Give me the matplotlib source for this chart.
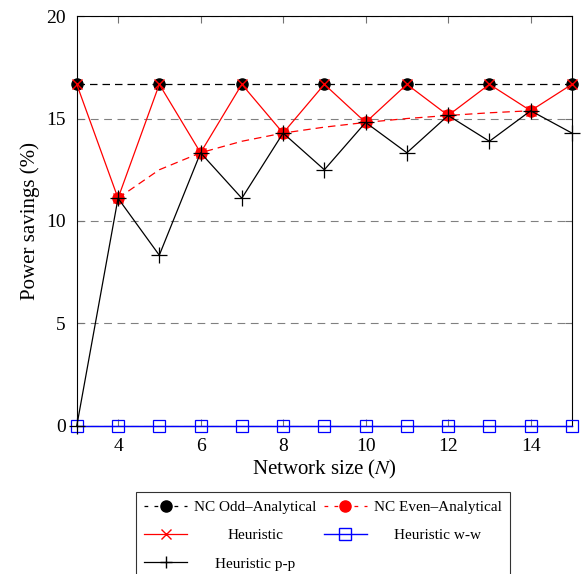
import numpy as np
import matplotlib
matplotlib.use("Agg")
from matplotlib import pyplot as plt
from matplotlib.transforms import Affine2D

plt.rcParams['font.family'] = ['Liberation Serif', 'DejaVu Serif']
plt.rcParams['mathtext.fontset'] = 'stix'

# network sizes
N = [3, 4, 5, 6, 7, 8, 9, 10, 11, 12, 13, 14, 15]

# NC odd analytical (markers at odd N)
odd_N = [3, 5, 7, 9, 11, 13, 15]
odd_vals = [16.67, 16.67, 16.67, 16.67, 16.67, 16.67, 16.67]

# NC even analytical curve (markers at even N)
even_N = [4, 5, 6, 7, 8, 9, 10, 11, 12, 13, 14]
even_vals = [11.11, 12.5, 13.33, 13.89, 14.29, 14.58, 14.81, 15.0, 15.15, 15.28, 15.38]

heuristic = [16.67, 11.11, 16.67, 13.33, 16.67, 14.29, 16.67, 14.81, 16.67, 15.15, 16.67, 15.38, 16.67]
heuristic_ww = [0, 0, 0, 0, 0, 0, 0, 0, 0, 0, 0, 0, 0]
heuristic_pp = [0, 11.11, 8.33, 13.33, 11.11, 14.29, 12.5, 14.81, 13.33, 15.15, 13.89, 15.38, 14.29]

fig = plt.figure(figsize=(5.86, 5.74), dpi=100)
ax = fig.add_axes([0.131, 0.258, 0.845, 0.714])

ax.plot([N[0], N[-1]], [odd_vals[0], odd_vals[-1]], color='black', ls=(0, (6, 4)), lw=0.9, zorder=2)
ax.plot(odd_N, odd_vals, ls='none', marker='o', ms=8, color='black', zorder=3, clip_on=False)
ax.plot(even_N, even_vals, color='red', ls=(0, (6, 4)), lw=0.9, marker='o', ms=8,
        markevery=[0, 2, 4, 6, 8, 10], zorder=3)
ax.plot(N, heuristic, color='red', lw=0.9, marker='x', ms=7, mew=1.0, zorder=4, clip_on=False)
ax.plot(N, heuristic_ww, color='blue', lw=1.0, marker='s', ms=8, mfc='none', mew=0.9,
        zorder=4, clip_on=False)
ax.plot(N, heuristic_pp, color='black', lw=0.9, marker='+', ms=11, mew=0.9, zorder=5, clip_on=False)

# legend proxies
h1, = ax.plot([], [], color='black', ls=(0, (3, 5)), lw=0.9, marker='o', ms=8)
h2, = ax.plot([], [], color='red', ls=(0, (3, 5)), lw=0.9, marker='o', ms=8)
h3, = ax.plot([], [], color='red', lw=0.9, marker='x', ms=7)
h4, = ax.plot([], [], color='blue', lw=1.0, marker='s', ms=8, mfc='none')
h5, = ax.plot([], [], color='black', lw=0.9, marker='+', ms=9)

ax.set_xlim(3, 15)
ax.set_ylim(0, 20)
ax.set_xticks([4, 6, 8, 10, 12, 14])
ax.set_yticks([0, 5, 10, 15, 20])
ax.yaxis.grid(True, color='gray', ls=(0, (7, 5)), lw=0.8)
ax.tick_params(direction='in', top=True, right=True, labelsize=14, length=5, color='0.45')
ax.tick_params(axis='x', pad=9)
ax.tick_params(axis='y', pad=8)
ax.set_xlabel('Network size ($N$)', fontsize=15, labelpad=2)
ax.set_ylabel('Power savings (%)', fontsize=15, labelpad=4)

# matplotlib fills legend columns first, so order entries for row-wise reading
handles = [h1, h3, h5, h2, h4]
labels = ['NC Odd\u2013Analytical', 'Heuristic', 'Heuristic p-p',
          'NC Even\u2013Analytical', 'Heuristic w-w']
leg = fig.legend(handles, labels,
                 loc='upper center', bbox_to_anchor=(0.551, 1 - 492 / 574), ncol=2,
                 fontsize=11, frameon=True, fancybox=False, edgecolor='black',
                 handlelength=2.8, handletextpad=0.45, columnspacing=0.5,
                 labelspacing=0.95, borderpad=0.55, borderaxespad=0)
leg.get_frame().set_linewidth(0.8)

# center label texts within each column (pgfplots style)
fig.canvas.draw()
r = fig.canvas.get_renderer()
texts = leg.get_texts()
cols = [[0, 1, 2], [3, 4]]
for col in cols:
    widths = [texts[i].get_window_extent(r).width for i in col]
    wmax = max(widths)
    for i, w in zip(col, widths):
        dx = (wmax - w) / 2.0
        texts[i].set_transform(texts[i].get_transform() + Affine2D().translate(dx, 0))

fig.savefig('out.png', dpi=100)
